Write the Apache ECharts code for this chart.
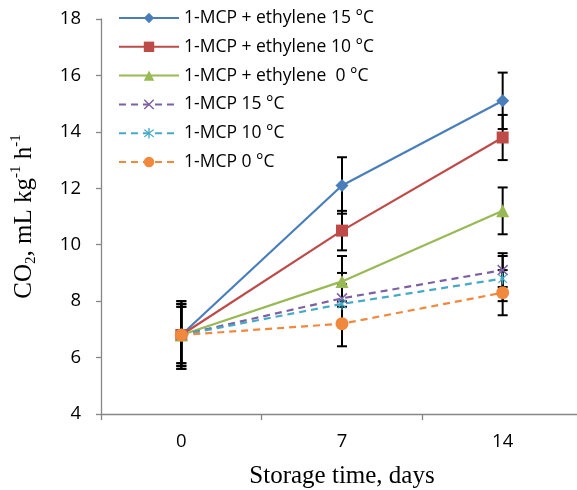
<!DOCTYPE html>
<html>
<head>
<meta charset="utf-8">
<script src="https://cdn.jsdelivr.net/npm/echarts@6/dist/echarts.min.js"></script>
<style>
html,body{margin:0;padding:0;background:#fff;}
#chart{width:577px;height:490px;}
</style>
</head>
<body>
<div id="chart"></div>
<script>
// ---- data ----
const days = ['0', '7', '14'];
const seriesNames = ['1-MCP + ethylene 15 °C', '1-MCP + ethylene 10 °C', '1-MCP + ethylene  0 °C', '1-MCP 15 °C', '1-MCP 10 °C', '1-MCP 0 °C'];
const eth15 = [6.8, 12.1, 15.1];
const eth10 = [6.8, 10.5, 13.8];
const eth0  = [6.8, 8.7, 11.2];
const mcp15 = [6.8, 8.1, 9.1];
const mcp10 = [6.8, 7.9, 8.8];
const mcp0  = [6.8, 7.2, 8.3];
const err_eth15 = [1.2, 1.0, 1.0];
const err_eth10 = [1.1, 0.7, 0.8];
const err_eth0  = [1.0, 0.9, 0.83];
const err_mcp15 = [1.0, 0.9, 0.6];
const err_mcp10 = [1.1, 0.7, 0.8];
const err_mcp0  = [1.2, 0.8, 0.8];
const yTicks = {min: 4, max: 18, interval: 2};

// ---- styles ----
const colors = ['#4A7EBB', '#BE4B48', '#98B954', '#7D60A0', '#46AAC5', '#F0883D'];
function starPath(angles, r, hw) {
  angles = angles.slice().sort((a, b) => a - b);
  let pts = [];
  for (let i = 0; i < angles.length; i++) {
    const t = angles[i] * Math.PI / 180;
    const tn = (i + 1 < angles.length ? angles[i + 1] : angles[0] + 360) * Math.PI / 180;
    const dx = Math.cos(t), dy = Math.sin(t), px = -dy, py = dx;
    pts.push([dx * r - px * hw, dy * r - py * hw]);
    pts.push([dx * r + px * hw, dy * r + py * hw]);
    const mid = (t + tn) / 2, half = (tn - t) / 2;
    const d = hw / Math.sin(half);
    pts.push([Math.cos(mid) * d, Math.sin(mid) * d]);
  }
  return 'path://M' + pts.map(p => (p[0] + 10).toFixed(3) + ',' + (p[1] + 10).toFixed(3)).join('L') + 'Z';
}
const xSym = starPath([45, 135, 225, 315], 7, 0.75);
const astSym = starPath([45, 90, 135, 225, 270, 315], 7, 0.7);

const values = [eth15, eth10, eth0, mcp15, mcp10, mcp0];
const errs = [err_eth15, err_eth10, err_eth0, err_mcp15, err_mcp10, err_mcp0];
const symbols = ['diamond', 'rect', 'triangle', xSym, astSym, 'circle'];
const symSizes = [13, 12, 13, 11, 12, 13];
const dashed = [false, false, false, true, true, true];

const series = [];
values.forEach((vals, s) => {
  series.push({
    type: 'custom',
    z: 1,
    silent: true,
    encode: {x: 0, y: [1, 2]},
    data: vals.map((v, i) => [i, v - errs[s][i], v + errs[s][i]]),
    renderItem: function (params, api) {
      const top = api.coord([api.value(0), api.value(2)]);
      const bot = api.coord([api.value(0), api.value(1)]);
      const hw = 5;
      const st = {stroke: '#000', lineWidth: 2};
      return {type: 'group', children: [
        {type: 'line', shape: {x1: top[0], y1: top[1], x2: bot[0], y2: bot[1]}, style: st},
        {type: 'line', shape: {x1: top[0] - hw, y1: top[1], x2: top[0] + hw, y2: top[1]}, style: st},
        {type: 'line', shape: {x1: bot[0] - hw, y1: bot[1], x2: bot[0] + hw, y2: bot[1]}, style: st}
      ]};
    }
  });
});
values.forEach((vals, s) => {
  series.push({
    name: seriesNames[s],
    type: 'line',
    z: 3,
    data: vals,
    symbol: symbols[s],
    symbolSize: symSizes[s],
    symbolKeepAspect: true,
    showAllSymbol: true,
    lineStyle: {color: colors[s], width: 2.2, type: dashed[s] ? [7, 5] : 'solid'},
    itemStyle: {color: colors[s], borderColor: colors[s], borderWidth: 0},
    emphasis: {disabled: true}
  });
});

const chart = echarts.init(document.getElementById('chart'), null, {renderer: 'canvas'});
chart.setOption({
  animation: false,
  backgroundColor: '#fff',
  grid: {left: 101, right: -6, top: 19, bottom: 76, containLabel: false, outerBoundsMode: 'none'},
  legend: {
    data: seriesNames,
    orient: 'vertical',
    left: 113,
    top: 3,
    padding: 5,
    itemWidth: 60,
    itemHeight: 13,
    itemGap: 8.8,
    textStyle: {fontFamily: 'Open Sans', fontSize: 17.5, color: '#000', lineHeight: 20}
  },
  xAxis: {
    type: 'category',
    data: days,
    boundaryGap: true,
    axisLine: {lineStyle: {color: '#868686', width: 1.3}},
    axisTick: {show: true, length: 6, lineStyle: {color: '#868686', width: 1.3}},
    axisLabel: {fontFamily: 'Open Sans', fontSize: 18.5, color: '#000', margin: 18},
    name: 'Storage time, days',
    nameLocation: 'middle',
    nameGap: 50,
    nameTextStyle: {fontFamily: 'Liberation Serif', fontSize: 25, color: '#000'},
    splitLine: {show: false}
  },
  yAxis: {
    type: 'value',
    min: yTicks.min,
    max: yTicks.max,
    interval: yTicks.interval,
    axisLine: {show: true, lineStyle: {color: '#868686', width: 1.3}},
    axisTick: {show: true, length: 5, lineStyle: {color: '#868686', width: 1.3}},
    axisLabel: {fontFamily: 'Open Sans', fontSize: 18.5, color: '#000', margin: 20},
    splitLine: {show: false},
    name: '{a|CO}{b|2}{a|, mL kg}{c|-1}{a| h}{c|-1}',
    nameLocation: 'middle',
    nameRotate: 90,
    nameGap: 62,
    nameTextStyle: {
      rich: {
        a: {fontFamily: 'Liberation Serif', fontSize: 25, color: '#000', lineHeight: 30, verticalAlign: 'middle'},
        b: {fontFamily: 'Liberation Serif', fontSize: 15, color: '#000', lineHeight: 14, verticalAlign: 'bottom'},
        c: {fontFamily: 'Liberation Serif', fontSize: 15, color: '#000', lineHeight: 14, verticalAlign: 'top'}
      }
    }
  },
  series: series
});
</script>
</body>
</html>
